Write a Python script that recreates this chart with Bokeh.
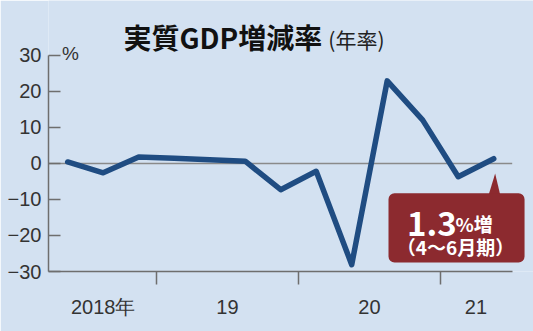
from bokeh.plotting import figure
from bokeh.models import (Range1d, FixedTicker, CustomJSTickFormatter, Label,
                          BoxAnnotation, ColumnDataSource)
from bokeh.embed import file_html
from bokeh.resources import INLINE

# ---- data ----
years = [2018, 2018, 2018, 2019, 2019, 2019, 2019, 2020, 2020, 2020, 2020, 2021, 2021]
quarters = [2, 3, 4, 1, 2, 3, 4, 1, 2, 3, 4, 1, 2]
growth = [0.4, -2.6, 1.8, 1.4, 1.0, 0.6, -7.3, -2.2, -28.1, 22.9, 12.0, -3.7, 1.3]

y_ticks = [-30, -20, -10, 0, 10, 20, 30]
year_bounds = [2019, 2020, 2021]
year_label_pos = [2018.625, 2019.5, 2020.5, 2021.25]
year_labels = ["2018年", "19", "20", "21"]

title_main = "実質GDP増減率"
title_sub = "(年率)"
unit_label = "%"
callout_value = "1.3"
callout_unit = "%増"
callout_period = "（4～6月期）"

BG = "#D3E1F1"
LINE = "#1F4C82"
AXIS = "#6E6E6E"
TXT = "#333333"
RED = "#8C2A2F"

# axis extents (plot area) and canvas extents
X0, X1 = 2018.24, 2021.505
Y0, Y1 = -30, 30
X_CANVAS_END = 2021.655
Y_CANVAS_TOP = 45.2

x = [y + (q - 0.5) / 4 for y, q in zip(years, quarters)]
src = ColumnDataSource(dict(x=x, y=growth))

p = figure(width=533, height=331, output_backend="svg", toolbar_location=None,
           x_range=Range1d(X0, X_CANVAS_END), y_range=Range1d(Y0, Y_CANVAS_TOP),
           min_border_left=48, min_border_right=0, min_border_top=0, min_border_bottom=60)
p.background_fill_color = BG
p.border_fill_color = BG
p.outline_line_color = None
p.xgrid.visible = False
p.ygrid.visible = False

# y axis
ya = p.yaxis[0]
ya.bounds = (Y0, Y1)
ya.ticker = FixedTicker(ticks=y_ticks, minor_ticks=[])
ya.major_tick_in = 12
ya.major_tick_out = 0
ya.minor_tick_in = 0
ya.minor_tick_out = 0
ya.axis_line_color = AXIS
ya.axis_line_width = 1.5
ya.major_tick_line_color = AXIS
ya.major_tick_line_width = 1.5
ya.major_label_standoff = 7
ya.major_label_text_font = "Liberation Sans"
ya.major_label_text_font_size = "20px"
ya.major_label_text_color = TXT

# x axis
xa = p.xaxis[0]
xa.bounds = (X0, X1)
xa.ticker = FixedTicker(ticks=year_label_pos, minor_ticks=year_bounds)
xa.formatter = CustomJSTickFormatter(args=dict(labels=year_labels), code="return labels[index];")
xa.major_tick_in = 0
xa.major_tick_out = 0
xa.minor_tick_in = 0
xa.minor_tick_out = 13
xa.minor_tick_line_color = AXIS
xa.minor_tick_line_width = 1.5
xa.axis_line_color = AXIS
xa.axis_line_width = 1.5
xa.major_label_standoff = 11
xa.major_label_text_font = "Liberation Sans"
xa.major_label_text_font_size = "20px"
xa.major_label_text_color = TXT

# zero line (across the plot area only)
p.segment(x0=[X0], x1=[X1], y0=[0], y1=[0], line_color="#8A8A8A", line_width=1.5)

# data line
p.line("x", "y", source=src, line_color=LINE, line_width=5.5, line_join="round", line_cap="round")

# unit label
p.add_layout(Label(x=2018.335, y=Y1, text=unit_label, text_font="Liberation Sans",
                   text_font_size="19px", text_color=TXT, text_baseline="middle", y_offset=2))

# title
p.add_layout(Label(x=2018.768, y=35.0, text=title_main, text_font="Noto Sans CJK JP",
                   text_font_style="bold", text_font_size="28px", text_color="#111111",
                   text_baseline="middle"))
p.add_layout(Label(x=2020.21, y=34.6, text=title_sub, text_font="Noto Sans CJK JP",
                   text_font_size="21px", text_color="#222222", text_baseline="middle"))

# callout
lx = x[-1]
p.add_layout(BoxAnnotation(left=2020.634, right=2021.592, top=-8.3, bottom=-27.5,
                           fill_color=RED, fill_alpha=1.0, line_color=None, border_radius=6))
p.patch(x=[lx - 0.035, lx + 0.01, lx + 0.045], y=[-8.6, -2.8, -8.6],
        fill_color=RED, line_color=None)
p.add_layout(Label(x=2020.765, y=-16.7, text=callout_value, text_font="Noto Sans CJK JP",
                   text_font_style="bold", text_font_size="33px", text_color="white",
                   text_baseline="alphabetic"))
p.add_layout(Label(x=2021.106, y=-16.7, text=callout_unit, text_font="Noto Sans CJK JP",
                   text_font_style="bold", text_font_size="19px", text_color="white",
                   text_baseline="alphabetic"))
p.add_layout(Label(x=2021.106, y=-23.1, text=callout_period, text_font="Noto Sans CJK JP",
                   text_font_style="bold", text_font_size="19px", text_color="white",
                   text_baseline="middle", text_align="center"))

open("out.html", "w").write(file_html(p, INLINE))
